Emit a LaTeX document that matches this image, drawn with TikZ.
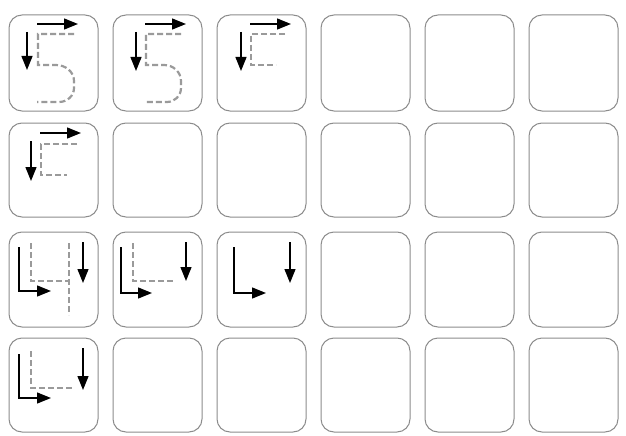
\documentclass[tikz,border=0pt]{standalone}
\usetikzlibrary{arrows.meta}
\definecolor{boxgray}{HTML}{8C8C8C}
\definecolor{dashgray}{HTML}{9A9A9A}
\begin{document}
\begin{tikzpicture}[x=1pt,y=-1pt,
  cell/.style={draw=boxgray,line width=1pt,rounded corners=13pt},
  stroke/.style={draw=black,line width=1.3pt,-{Triangle[length=14pt,width=11pt]}},
  guide/.style={draw=dashgray,line width=2.2pt,dash pattern=on 6pt off 3pt}]
\useasboundingbox (0,0) rectangle (626,436);
% boxes
\foreach \x in {9,113,217,321,425,529}{
  \draw[cell] (\x,15) rectangle ++(89,96);
  \draw[cell] (\x,123) rectangle ++(89,94);
  \draw[cell] (\x,232) rectangle ++(89,95);
  \draw[cell] (\x,338) rectangle ++(89,94);
}
% row 1, box 1: full 5
\draw[guide] (74,34) -- (38,34) -- (38,65) -- (56,65) to[out=0,in=90] (74,81) -- (74,88) to[out=-90,in=0] (59,102) -- (37,102);
\draw[stroke] (37,24) -- (78,24);
\draw[stroke] (27,32) -- (27,70);
% row 1, box 2: full 5
\draw[guide] (181,34) -- (146,34) -- (146,65) -- (164,65) to[out=0,in=90] (181,81) -- (181,88) to[out=-90,in=0] (167,102) -- (145,102);
\draw[stroke] (145,24) -- (186,24);
\draw[stroke] (136,32) -- (136,71);
% row 1, box 3: partial
\draw[guide] (285,34) -- (251,34) -- (251,65) -- (276,65);
\draw[stroke] (250,24) -- (291,24);
\draw[stroke] (241,32) -- (241,71);
% row 2, box 1: partial
\draw[guide] (77,144) -- (41,144) -- (41,175) -- (67,175);
\draw[stroke] (40,133) -- (81,133);
\draw[stroke] (31,141) -- (31,181);
% row 3, box 1: full 4
\draw[guide] (31,243) -- (31,281) -- (70,281);
\draw[guide] (69,243) -- (69,315);
\draw[stroke] (19,247) -- (19,291) -- (51,291);
\draw[stroke] (83,242) -- (83,283);
% row 3, box 2
\draw[guide] (133,243) -- (133,281) -- (175,281);
\draw[stroke] (121,247) -- (121,293) -- (152,293);
\draw[stroke] (186,242) -- (186,281);
% row 3, box 3
\draw[stroke] (234,247) -- (234,293) -- (266,293);
\draw[stroke] (290,242) -- (290,283);
% row 4, box 1
\draw[guide] (31,351) -- (31,388) -- (72,388);
\draw[stroke] (19,354) -- (19,398) -- (51,398);
\draw[stroke] (83,348) -- (83,390);
\end{tikzpicture}
\end{document}
